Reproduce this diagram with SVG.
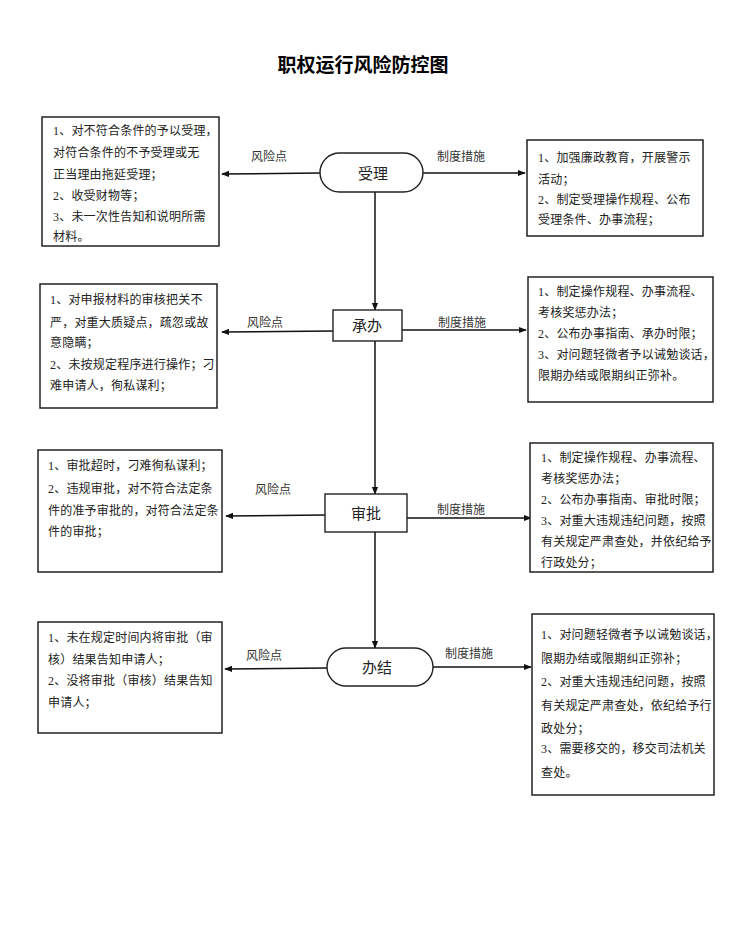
<svg xmlns="http://www.w3.org/2000/svg" width="756" height="936" viewBox="0 0 756 936">
<style>
.bg{fill:#fff}
.box{fill:#fff;stroke:#222;stroke-width:1.5}
.node{fill:#fff;stroke:#222;stroke-width:1.4}
.t{font-family:"Liberation Serif","Noto Sans CJK SC",serif;font-size:12px;fill:#222;letter-spacing:0.2px}
.lbl{font-family:"Liberation Serif","Noto Sans CJK SC",serif;font-size:12px;fill:#333}
.nt{font-family:"Liberation Serif","Noto Sans CJK SC",serif;font-size:15px;fill:#222;text-anchor:middle}
.title{font-family:"Noto Sans CJK SC",sans-serif;font-size:19px;font-weight:bold;fill:#000;text-anchor:middle}
.ln{stroke:#111;stroke-width:1.5;fill:none;marker-end:url(#ah)}
</style>
<defs>
<marker id="ah" viewBox="0 0 10 10" refX="9" refY="5" markerWidth="8" markerHeight="8" markerUnits="userSpaceOnUse" orient="auto">
<path d="M0,1 L10,5 L0,9 Z" fill="#111"/>
</marker>
</defs>
<rect class="bg" x="0" y="0" width="756" height="936"/>
<text class="title" x="363" y="72">职权运行风险防控图</text>

<g id="connectors">
<line class="ln" x1="375" y1="192" x2="375" y2="310"/>
<line class="ln" x1="375" y1="341" x2="375" y2="494"/>
<line class="ln" x1="375" y1="532" x2="375" y2="648"/>
<line class="ln" x1="320" y1="173" x2="222" y2="174"/>
<line class="ln" x1="423" y1="173" x2="525" y2="173"/>
<line class="ln" x1="333" y1="331" x2="222" y2="332"/>
<line class="ln" x1="402" y1="330" x2="526" y2="330"/>
<line class="ln" x1="325" y1="515" x2="226" y2="516"/>
<line class="ln" x1="407" y1="518" x2="531" y2="518"/>
<line class="ln" x1="327" y1="668" x2="225" y2="669"/>
<line class="ln" x1="433" y1="667" x2="531" y2="667"/>
<text class="lbl" x="251" y="161">风险点</text>
<text class="lbl" x="437" y="161">制度措施</text>
<text class="lbl" x="247" y="327">风险点</text>
<text class="lbl" x="438" y="327">制度措施</text>
<text class="lbl" x="255" y="494">风险点</text>
<text class="lbl" x="437" y="514">制度措施</text>
<text class="lbl" x="246" y="660">风险点</text>
<text class="lbl" x="445" y="658">制度措施</text>
</g>

<g id="n1">
<rect class="node" x="320" y="153" width="103" height="39" rx="19.5"/>
<text class="nt" x="373" y="179">受理</text>
</g>
<g id="n2">
<rect class="node" x="333" y="310" width="69" height="31"/>
<text class="nt" x="367" y="331">承办</text>
</g>
<g id="n3">
<rect class="node" x="325" y="494" width="82" height="38"/>
<text class="nt" x="366" y="519">审批</text>
</g>
<g id="n4">
<rect class="node" x="327" y="648" width="106" height="38" rx="19"/>
<text class="nt" x="377" y="673">办结</text>
</g>

<g id="risk1">
<rect class="box" x="42" y="117" width="177" height="129"/>
<text class="t" x="53" y="135">1、对不符合条件的予以受理，</text>
<text class="t" x="53" y="157">对符合条件的不予受理或无</text>
<text class="t" x="53" y="179">正当理由拖延受理；</text>
<text class="t" x="53" y="200">2、收受财物等；</text>
<text class="t" x="53" y="221">3、未一次性告知和说明所需</text>
<text class="t" x="53" y="241">材料。</text>
</g>
<g id="measure1">
<rect class="box" x="527" y="140" width="176" height="96"/>
<text class="t" x="538" y="162">1、加强廉政教育，开展警示</text>
<text class="t" x="538" y="184">活动；</text>
<text class="t" x="538" y="204">2、制定受理操作规程、公布</text>
<text class="t" x="538" y="224">受理条件、办事流程；</text>
</g>

<g id="risk2">
<rect class="box" x="40" y="284" width="177" height="124"/>
<text class="t" x="50" y="304">1、对申报材料的审核把关不</text>
<text class="t" x="50" y="327">严，对重大质疑点，疏忽或故</text>
<text class="t" x="50" y="347">意隐瞒；</text>
<text class="t" x="50" y="369">2、未按规定程序进行操作；刁</text>
<text class="t" x="50" y="390">难申请人，徇私谋利；</text>
</g>
<g id="measure2">
<rect class="box" x="528" y="277" width="185" height="125"/>
<text class="t" x="538" y="296">1、制定操作规程、办事流程、</text>
<text class="t" x="538" y="317">考核奖惩办法；</text>
<text class="t" x="538" y="338">2、公布办事指南、承办时限；</text>
<text class="t" x="538" y="359">3、对问题轻微者予以诫勉谈话，</text>
<text class="t" x="538" y="380">限期办结或限期纠正弥补。</text>
</g>

<g id="risk3">
<rect class="box" x="38" y="450" width="184" height="122"/>
<text class="t" x="48" y="470">1、审批超时，刁难徇私谋利；</text>
<text class="t" x="48" y="493">2、违规审批，对不符合法定条</text>
<text class="t" x="48" y="515">件的准予审批的，对符合法定条</text>
<text class="t" x="48" y="536">件的审批；</text>
</g>
<g id="measure3">
<rect class="box" x="530" y="443" width="183" height="129"/>
<text class="t" x="541" y="462">1、制定操作规程、办事流程、</text>
<text class="t" x="541" y="483">考核奖惩办法；</text>
<text class="t" x="541" y="504">2、公布办事指南、审批时限；</text>
<text class="t" x="541" y="525">3、对重大违规违纪问题，按照</text>
<text class="t" x="541" y="546">有关规定严肃查处，并依纪给予</text>
<text class="t" x="541" y="567">行政处分；</text>
</g>

<g id="risk4">
<rect class="box" x="38" y="622" width="184" height="111"/>
<text class="t" x="48" y="642">1、未在规定时间内将审批（审</text>
<text class="t" x="48" y="664">核）结果告知申请人；</text>
<text class="t" x="48" y="685">2、没将审批（审核）结果告知</text>
<text class="t" x="48" y="707">申请人；</text>
</g>
<g id="measure4">
<rect class="box" x="532" y="614" width="182" height="181"/>
<text class="t" x="541" y="639">1、对问题轻微者予以诫勉谈话，</text>
<text class="t" x="541" y="663">限期办结或限期纠正弥补；</text>
<text class="t" x="541" y="686">2、对重大违规违纪问题，按照</text>
<text class="t" x="541" y="710">有关规定严肃查处，依纪给予行</text>
<text class="t" x="541" y="733">政处分；</text>
<text class="t" x="541" y="753">3、需要移交的，移交司法机关</text>
<text class="t" x="541" y="777">查处。</text>
</g>
</svg>
